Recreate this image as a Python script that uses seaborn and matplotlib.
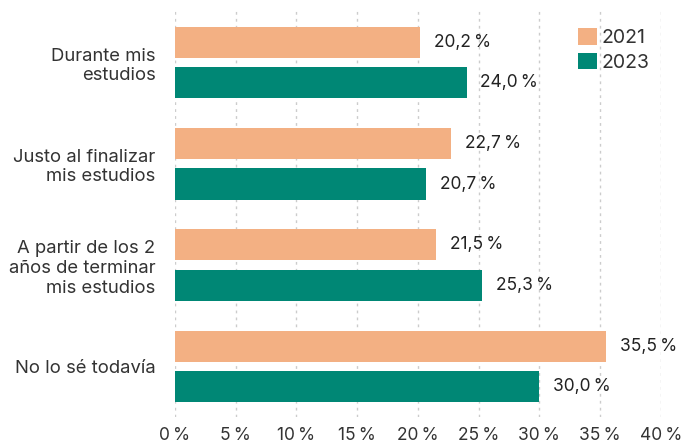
import matplotlib
matplotlib.use("Agg")
import matplotlib.pyplot as plt
import pandas as pd
import seaborn as sns

# data
categories = [
    "Durante mis\nestudios",
    "Justo al finalizar\nmis estudios",
    "A partir de los 2\naños de terminar\nmis estudios",
    "No lo sé todavía",
]
years = ["2021", "2023"]
values_2021 = [20.2, 22.7, 21.5, 35.5]
values_2023 = [24.0, 20.7, 25.3, 30.0]
x_ticks = [0, 5, 10, 15, 20, 25, 30, 35, 40]

colors = {"2021": "#F3B083", "2023": "#008775"}
text_color = "#333333"

df = pd.DataFrame({
    "categoria": categories * 2,
    "year": [years[0]] * 4 + [years[1]] * 4,
    "valor": values_2021 + values_2023,
})

sns.set_style("white")
plt.rcParams["font.family"] = ["Inter", "DejaVu Sans"]

fig = plt.figure(figsize=(6.82, 4.47), dpi=100)
ax = fig.add_axes([0.2566, 0.067, 0.969 - 0.2566, 0.911])

sns.barplot(
    data=df, y="categoria", x="valor", hue="year", order=categories,
    hue_order=years, palette=colors, orient="h", width=0.8, gap=0.23,
    ax=ax, saturation=1, legend=True, linewidth=0,
)

# value labels
for cont in ax.containers:
    ax.bar_label(
        cont, labels=[f"{v:.1f}".replace(".", ",") + "\u2009%" for v in cont.datavalues],
        padding=10, fontsize=12.5, color="#222222",
    )

ax.set_xlim(0, 40)
ax.set_ylim(3.5, -0.52)
ax.set_xticks(x_ticks)
ax.set_xticklabels([f"{t}\u2009%" for t in x_ticks], fontsize=12.5, color=text_color)
ax.tick_params(axis="y", length=0, pad=14, labelsize=13.3, labelcolor=text_color)
ax.tick_params(axis="x", length=0, pad=7)
for lab in ax.get_yticklabels():
    lab.set_horizontalalignment("right")
    lab.set_multialignment("right")
ax.set_xlabel("")
ax.set_ylabel("")

ax.grid(axis="x", color="#cccccc", linestyle=(0, (2, 3)), linewidth=1)
ax.set_axisbelow(True)
sns.despine(ax=ax, left=True, bottom=True)

leg = ax.legend(
    loc="upper right", bbox_to_anchor=(0.993, 0.975), frameon=False, fontsize=14,
    handlelength=0.95, handleheight=0.95, handletextpad=0.25, labelspacing=0.3,
    borderaxespad=0.0,
)
for t in leg.get_texts():
    t.set_color(text_color)

fig.savefig("out.png", dpi=100)
